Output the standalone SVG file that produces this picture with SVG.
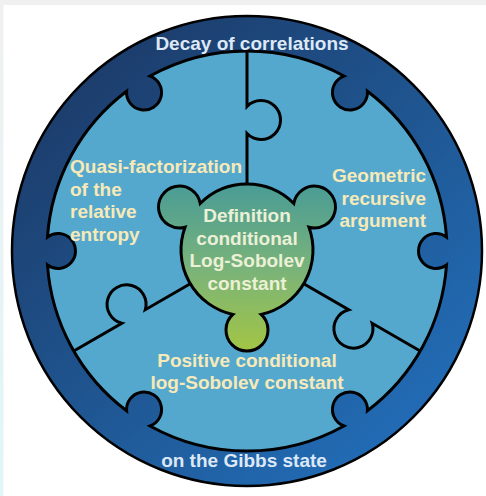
<svg xmlns="http://www.w3.org/2000/svg" width="486" height="496" viewBox="0 0 486 496">
  <defs>
    <linearGradient id="ringFill" gradientUnits="userSpaceOnUse" x1="70" y1="60" x2="420" y2="450">
      <stop offset="0" stop-color="#1c3b69"/>
      <stop offset="0.5" stop-color="#1f5590"/>
      <stop offset="1" stop-color="#226eb9"/>
    </linearGradient>
    <linearGradient id="coreFill" gradientUnits="userSpaceOnUse" x1="0" y1="186" x2="0" y2="350">
      <stop offset="0" stop-color="#4a9c95"/>
      <stop offset="0.5" stop-color="#79b37a"/>
      <stop offset="1" stop-color="#a2c545"/>
    </linearGradient>
    <linearGradient id="edgeFill" x1="0" y1="0" x2="0" y2="1">
      <stop offset="0" stop-color="#f0f0f0"/>
      <stop offset="1" stop-color="#e0f6f8"/>
    </linearGradient>
    <style>
      .outline { stroke: #000; stroke-width: 3; stroke-linejoin: miter; }
      .seam { fill: none; stroke: #000; stroke-width: 3; stroke-linejoin: miter; }
      text { font-family: "Liberation Sans", Arial, sans-serif; font-weight: bold; font-size: 19px; }
      .ringText { fill: #dde8f6; text-anchor: middle; }
      .pieceText { fill: #f7eab8; }
      .coreText { fill: #ebf0d6; text-anchor: middle; }
    </style>
  </defs>

  <!-- page -->
  <rect x="0" y="0" width="486" height="496" fill="#ffffff"/>
  <rect x="0" y="0" width="486" height="5" fill="#f0f0f0"/>
  <rect x="0" y="0" width="3.5" height="496" fill="url(#edgeFill)"/>

  <!-- outer ring -->
  <g id="ring">
    <circle cx="247" cy="251" r="235" fill="url(#ringFill)" stroke="#000" stroke-width="2.5"/>
  </g>

  <!-- inner disk with the six tabs of the ring cut out -->
  <g id="pieces">
    <path class="outline" fill="#55a8cd" d="M150.06,76.06
      A200,200 0 0 1 343.94,76.06
      A17.5,17.5 0 1 0 367.40,91.30
      A200,200 0 0 1 446.51,237.01
      A17.5,17.5 0 1 0 446.51,264.99
      A200,200 0 0 1 367.40,410.70
      A17.5,17.5 0 1 0 343.94,425.94
      A200,200 0 0 1 150.06,425.94
      A17.5,17.5 0 1 0 126.60,410.70
      A200,200 0 0 1 47.49,264.99
      A17.5,17.5 0 1 0 47.49,237.01
      A200,200 0 0 1 126.60,91.30
      A17.5,17.5 0 1 0 150.06,76.06 Z"/>
  </g>

  <!-- seams between the three pieces -->
  <g id="seams">
    <path id="seamUp" class="seam" d="M247,195 V133.57 A19.5,19.5 0 1 0 247,106.43 V51.5"/>
    <use href="#seamUp" transform="rotate(120 247 251)"/>
    <use href="#seamUp" transform="rotate(240 247 251)"/>
  </g>

  <!-- central piece -->
  <g id="core">
    <path class="outline" fill="url(#coreFill)" d="M200.22,203.44
      A66,66 0 0 1 293.78,203.44
      A21,21 0 1 1 308.96,227.28
      A66,66 0 0 1 261.13,314.47
      A21,21 0 1 1 232.87,314.47
      A66,66 0 0 1 185.04,227.28
      A21,21 0 1 1 200.22,203.44 Z"/>
    <text class="coreText" x="247" y="222">Definition</text>
    <text class="coreText" x="247" y="244.5">conditional</text>
    <text class="coreText" x="247" y="267">Log-Sobolev</text>
    <text class="coreText" x="247" y="289.5">constant</text>
  </g>

  <g id="piece-left">
    <text class="pieceText" x="70" y="173">Quasi-factorization</text>
    <text class="pieceText" x="70" y="195.5">of the</text>
    <text class="pieceText" x="70" y="218">relative</text>
    <text class="pieceText" x="70" y="240.5">entropy</text>
  </g>

  <g id="piece-right">
    <text class="pieceText" x="426" y="182" text-anchor="end">Geometric</text>
    <text class="pieceText" x="426" y="204.5" text-anchor="end">recursive</text>
    <text class="pieceText" x="426" y="227" text-anchor="end">argument</text>
  </g>

  <g id="piece-bottom">
    <text class="pieceText" x="247" y="366.5" text-anchor="middle">Positive conditional</text>
    <text class="pieceText" x="247" y="389" text-anchor="middle">log-Sobolev constant</text>
  </g>

  <g id="ring-labels">
    <text class="ringText" x="252" y="50">Decay of correlations</text>
    <text class="ringText" x="244" y="466.5">on the Gibbs state</text>
  </g>
</svg>
